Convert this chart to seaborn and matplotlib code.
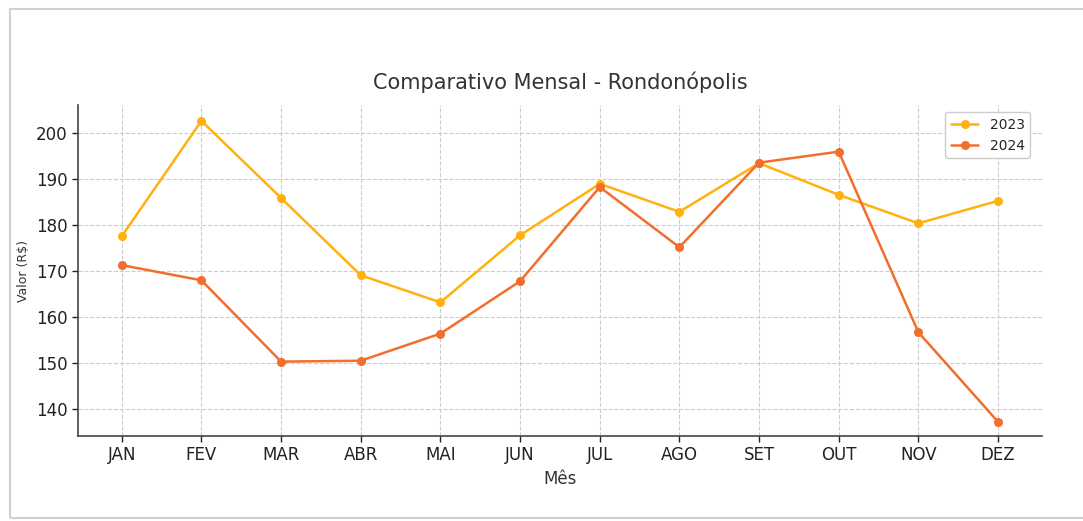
import matplotlib
matplotlib.use("Agg")
import matplotlib.pyplot as plt
import seaborn as sns
import pandas as pd
from matplotlib.patches import Rectangle

meses = ["JAN", "FEV", "MAR", "ABR", "MAI", "JUN", "JUL", "AGO", "SET", "OUT", "NOV", "DEZ"]
valores_2023 = [177.5, 202.6, 185.8, 169.0, 163.1, 177.7, 188.9, 182.8, 193.4, 186.5, 180.3, 185.2]
valores_2024 = [171.2, 167.9, 150.2, 150.4, 156.3, 167.7, 188.2, 175.1, 193.5, 195.9, 156.6, 137.1]

sns.set_theme(style="whitegrid")
plt.rcParams['font.family'] = ['DejaVu Sans']

df = pd.DataFrame({
    "Mês": meses * 2,
    "Valor": valores_2023 + valores_2024,
    "Ano": ["2023"] * 12 + ["2024"] * 12,
})

fig = plt.figure(figsize=(10.83, 5.21), dpi=100)
# moldura do print (sem borda direita)
fig.patches.append(Rectangle((0.009, 0.006), 1.2, 0.977, transform=fig.transFigure,
                             fill=False, edgecolor="#d0d0d0", linewidth=1.5))
ax = fig.add_axes([0.072, 0.163, 0.890, 0.635])

cores = {"2023": "#FFB20F", "2024": "#F26E2C"}
sns.lineplot(data=df, x="Mês", y="Valor", hue="Ano", palette=cores, marker="o",
             markersize=6.5, markeredgewidth=0, linewidth=1.8, sort=False, ax=ax)

ax.set_facecolor("white")
ax.grid(True, linestyle="--", color="#cccccc", linewidth=0.8)
for s in ["top", "right"]:
    ax.spines[s].set_visible(False)
for s in ["left", "bottom"]:
    ax.spines[s].set_color("#444444")
    ax.spines[s].set_linewidth(1.2)

ax.set_ylim(134, 206)
ax.set_yticks([140, 150, 160, 170, 180, 190, 200])
ax.set_xlim(-0.55, 11.55)
ax.tick_params(axis="both", labelsize=12, colors="#222222", length=4, width=1, left=True, bottom=True)
ax.set_title("Comparativo Mensal - Rondonópolis", fontsize=15, color="#333333", pad=12)
ax.set_xlabel("Mês", fontsize=12, color="#333333")
ax.set_ylabel("Valor (R$)", fontsize=9, color="#333333")

leg = ax.legend(loc="upper right", bbox_to_anchor=(0.995, 1.0), fontsize=10,
                frameon=True, edgecolor="#cccccc", framealpha=1)
leg.set_title(None)

fig.savefig("out.png", dpi=100, facecolor="white")
